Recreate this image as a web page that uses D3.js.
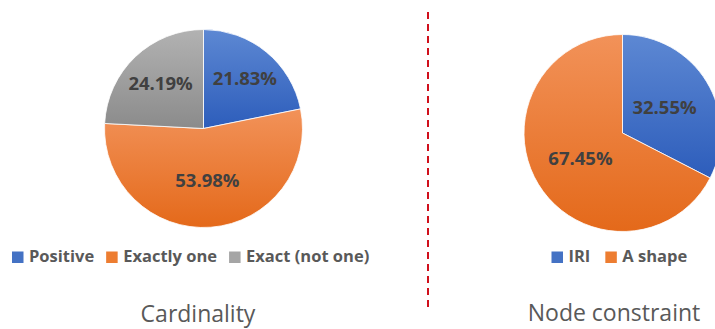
<!DOCTYPE html>
<html>
<head>
<meta charset="utf-8">
<script src="https://cdn.jsdelivr.net/npm/d3@7/dist/d3.min.js"></script>
<style>
  html, body { margin: 0; padding: 0; background: #fff; }
  svg { display: block; }
</style>
</head>
<body>
<svg id="chart" width="715" height="329"></svg>
<script>
// Cardinality breakdown (percent of constraints)
const cardinalityCategories = ["Positive", "Exactly one", "Exact (not one)"];
const cardinalityValues = [21.83, 53.98, 24.19];
const cardinalityTitle = "Cardinality";

// Node constraint breakdown (percent)
const nodeCategories = ["IRI", "A shape"];
const nodeValues = [32.55, 67.45];
const nodeTitle = "Node constraint";

// Fill gradients per colour family: [top, bottom]
const palette = {
  blue:   ["#5d88d3", "#2d5dbb"],
  orange: ["#f29259", "#e4691a"],
  gray:   ["#b2b2b2", "#8b8b8b"]
};
const legendSwatch = { blue: "#4472c4", orange: "#ed7d31", gray: "#a5a5a5" };

const svg = d3.select("#chart");
const defs = svg.append("defs");
Object.entries(palette).forEach(([key, [top, bottom]]) => {
  const g = defs.append("linearGradient")
    .attr("id", "grad-" + key)
    .attr("x1", 0).attr("y1", 0).attr("x2", 0).attr("y2", 1);
  g.append("stop").attr("offset", "0%").attr("stop-color", top);
  g.append("stop").attr("offset", "100%").attr("stop-color", bottom);
});

function drawPie(opts) {
  const { categories, values, colors, cx, cy, r, labelFrac, legend, title } = opts;
  const data = categories.map((c, i) => ({ name: c, value: values[i], color: colors[i] }));
  const pie = d3.pie().value(d => d.value).sort(null);
  const arcs = pie(data);
  const arc = d3.arc().innerRadius(0).outerRadius(r);

  const g = svg.append("g").attr("transform", `translate(${cx},${cy})`);
  g.selectAll("path.slice")
    .data(arcs)
    .join("path")
    .attr("class", "slice")
    .attr("d", arc)
    .attr("fill", d => `url(#grad-${d.data.color})`)
    .attr("stroke", "#ffffff")
    .attr("stroke-width", 0.8);

  g.selectAll("text.value")
    .data(arcs)
    .join("text")
    .attr("class", "value")
    .attr("transform", (d, i) => {
      const lr = r * labelFrac[i];
      const [x, y] = d3.arc().innerRadius(lr).outerRadius(lr).centroid(d);
      return `translate(${x},${y})`;
    })
    .attr("text-anchor", "middle")
    .attr("dy", "0.36em")
    .attr("font-family", "'Open Sans', sans-serif")
    .attr("font-weight", 700)
    .attr("font-size", 18.5)
    .attr("fill", "#404040")
    .text(d => d.data.value.toFixed(2) + "%");

  // legend row
  const lg = svg.append("g").attr("transform", `translate(${legend.x},${legend.y})`);
  let x = 0;
  data.forEach(d => {
    lg.append("rect")
      .attr("x", x).attr("y", -10.5)
      .attr("width", 11.5).attr("height", 11.5)
      .attr("fill", legendSwatch[d.color]);
    const t = lg.append("text")
      .attr("x", x + 17)
      .attr("y", 0)
      .attr("font-family", "'Open Sans', sans-serif")
      .attr("font-weight", 700)
      .attr("font-size", 16.5)
      .attr("fill", "#595959")
      .text(d.name);
    x += 17 + t.node().getComputedTextLength() + legend.gap;
  });

  svg.append("text")
    .attr("x", title.x).attr("y", title.y)
    .attr("text-anchor", "middle")
    .attr("font-family", "'Open Sans', sans-serif")
    .attr("font-size", 23)
    .attr("fill", "#595959")
    .text(title.text);
}

drawPie({
  categories: cardinalityCategories,
  values: cardinalityValues,
  colors: ["blue", "orange", "gray"],
  cx: 203.5, cy: 128.5, r: 99,
  labelFrac: [0.66, 0.53, 0.63],
  legend: { x: 12, y: 262, gap: 12 },
  title: { x: 198, y: 322, text: cardinalityTitle }
});

drawPie({
  categories: nodeCategories,
  values: nodeValues,
  colors: ["blue", "orange"],
  cx: 622.5, cy: 133, r: 98.5,
  labelFrac: [0.5, 0.5],
  legend: { x: 551.5, y: 262, gap: 15 },
  title: { x: 614, y: 321, text: nodeTitle }
});

// divider between the two panels
svg.append("line")
  .attr("x1", 428).attr("x2", 428)
  .attr("y1", 12).attr("y2", 307)
  .attr("stroke", "#d0101c")
  .attr("stroke-width", 2)
  .attr("stroke-dasharray", "7 5");
</script>
</body>
</html>
